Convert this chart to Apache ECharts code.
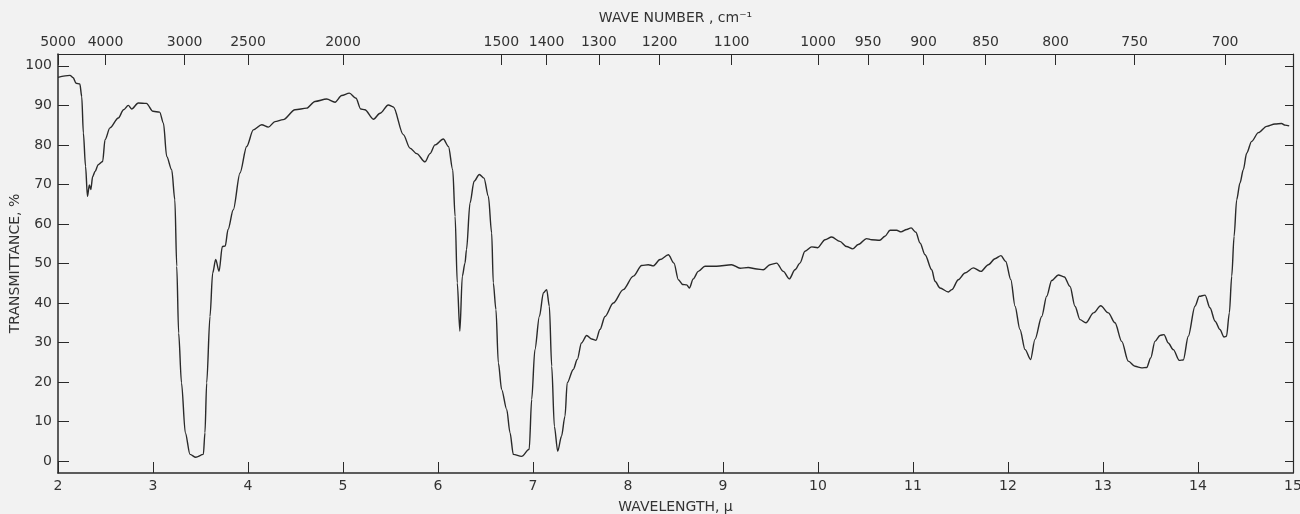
<!DOCTYPE html>
<html>
<head>
<meta charset="utf-8">
<title>IR spectrum</title>
<script src="https://cdn.jsdelivr.net/npm/echarts@6/dist/echarts.min.js"></script>
<style>
  html, body { margin: 0; padding: 0; background: #f2f2f2; }
  #myChart { width: 1300px; height: 514px; }
</style>
</head>
<body>
<div id="myChart"></div>
<script>
// wavelength in microns (bottom axis)
const wavelength = [
  2.00, 2.126, 2.16, 2.19, 2.23, 2.25, 2.267, 2.29, 2.31, 2.33, 2.345, 2.365, 2.39, 2.424, 2.47, 2.495,
  2.547, 2.635, 2.69, 2.74, 2.775, 2.845, 2.93, 3.0, 3.07, 3.11, 3.144, 3.197, 3.23, 3.25, 3.27, 3.30,
  3.34, 3.39, 3.45, 3.53, 3.547, 3.565, 3.6, 3.628, 3.66, 3.695, 3.73, 3.76, 3.79, 3.845, 3.916, 3.986,
  4.056, 4.144, 4.214, 4.284, 4.37, 4.495, 4.618, 4.705, 4.828, 4.916, 4.986, 5.067, 5.137, 5.186, 5.23,
  5.32, 5.39, 5.477, 5.53, 5.635, 5.705, 5.776, 5.863, 5.916, 5.968, 6.056, 6.11, 6.155, 6.18, 6.203,
  6.23, 6.256, 6.284, 6.30, 6.337, 6.38, 6.435, 6.484, 6.53, 6.565, 6.582, 6.61, 6.635, 6.67, 6.723,
  6.758, 6.793, 6.88, 6.96, 6.986, 7.02, 7.067, 7.11, 7.144, 7.172, 7.197, 7.225, 7.26, 7.30, 7.337,
  7.36, 7.424, 7.466, 7.51, 7.565, 7.618, 7.663, 7.705, 7.758, 7.845, 7.95, 8.056, 8.144, 8.214, 8.266,
  8.337, 8.425, 8.484, 8.53, 8.576, 8.618, 8.646, 8.687, 8.74, 8.81, 8.933, 9.09, 9.18, 9.266, 9.355,
  9.424, 9.495, 9.565, 9.635, 9.698, 9.758, 9.81, 9.863, 9.934, 9.997, 10.074, 10.144, 10.23, 10.3,
  10.365, 10.424, 10.512, 10.565, 10.65, 10.705, 10.758, 10.828, 10.874, 10.934, 10.98, 11.03, 11.074,
  11.127, 11.197, 11.232, 11.284, 11.372, 11.41, 11.477, 11.547, 11.635, 11.716, 11.793, 11.863, 11.926,
  11.976, 12.03, 12.074, 12.126, 12.18, 12.238, 12.284, 12.355, 12.407, 12.46, 12.53, 12.593, 12.653,
  12.705, 12.758, 12.82, 12.9, 12.976, 13.056, 13.126, 13.197, 13.266, 13.337, 13.407, 13.46, 13.502,
  13.547, 13.6, 13.642, 13.687, 13.74, 13.803, 13.845, 13.898, 13.968, 14.014, 14.074, 14.126, 14.18,
  14.23, 14.274, 14.3, 14.33, 14.355, 14.38, 14.407, 14.442, 14.477, 14.512, 14.565, 14.635, 14.723,
  14.81, 14.88, 14.916, 14.96
]
// transmittance in %
const transmittance = [
  97.1, 97.6, 97.0, 95.6, 95.4, 92.2, 83.0, 74.6, 67.0, 69.9, 68.7, 72.0, 73.3, 75.0, 75.8, 81.3,
  84.3, 86.8, 88.9, 90.0, 89.1, 90.6, 90.5, 88.5, 88.3, 85.5, 77.1, 73.7, 66.1, 49.3, 32.4, 19.8,
  7.2, 1.7, 1.0, 1.7, 7.2, 19.8, 36.6, 47.6, 51.0, 48.0, 54.3, 54.4, 58.6, 63.6, 72.9, 79.6,
  83.8, 85.1, 84.5, 85.9, 86.4, 88.9, 89.3, 91.0, 91.6, 90.8, 92.5, 93.1, 91.8, 89.1, 88.9,
  86.5, 88.0, 90.1, 89.6, 82.6, 79.2, 77.8, 75.7, 77.8, 80.0, 81.5, 79.6, 73.7, 61.9, 45.1,
  32.9, 46.8, 50.1, 53.5, 65.3, 70.8, 72.5, 71.6, 67.0, 57.7, 45.1, 38.3, 24.9, 18.1, 13.1,
  7.2, 1.7, 1.2, 3.0, 15.6, 28.2, 36.6, 42.6, 43.4, 39.2, 24.0, 8.8, 2.5, 6.3, 11.4,
  19.8, 23.2, 25.7, 29.9, 31.8, 30.9, 30.6, 33.3, 36.6, 40.0, 43.4, 46.8, 49.5, 49.7, 49.4,
  51.0, 52.2, 50.1, 45.9, 44.7, 44.6, 43.8, 46.1, 48.0, 49.3, 49.3, 49.7, 48.8, 49.0, 48.6,
  48.4, 49.7, 50.1, 48.0, 46.1, 48.4, 50.1, 53.1, 54.2, 54.0, 56.0, 56.7, 55.6, 54.3,
  53.7, 54.8, 56.3, 56.0, 55.9, 56.9, 58.4, 58.4, 58.0, 58.6, 59.0, 57.9, 55.2,
  52.2, 48.4, 45.5, 43.8, 42.8, 43.4, 45.9, 47.6, 48.9, 48.0, 49.7, 51.2, 52.0,
  50.5, 45.9, 39.2, 33.3, 28.2, 25.7, 30.8, 36.6, 41.7, 45.7, 47.1, 46.6, 44.2,
  39.2, 35.8, 35.0, 37.5, 39.3, 37.5, 35.0, 30.3, 25.3, 24.0, 23.6, 23.7, 26.1,
  30.3, 31.8, 32.0, 29.9, 28.2, 25.5, 25.6, 31.6, 39.2, 41.7, 42.0, 38.8, 35.4,
  33.3, 31.4, 31.6, 37.5, 46.8, 56.9, 66.1, 70.4, 73.7, 77.9, 80.9, 83.1, 84.7,
  85.3, 85.4, 85.0, 84.8
]
// top axis: wave numbers, cm-1
const waveNumbers = [5000, 4000, 3000, 2500, 2000, 1500, 1400, 1300, 1200, 1100, 1000, 950, 900, 850, 800, 750, 700]
// y axis tick labels
const yTicks = [0, 10, 20, 30, 40, 50, 60, 70, 80, 90, 100]

const lineColor = '#2a2a2a'
const textStyle = { fontFamily: 'DejaVu Sans', fontSize: 14, color: '#333' }

let points = wavelength.map((w, i) => [w, transmittance[i]])

let option = {
  backgroundColor: '#f2f2f2',
  animation: false,
  // keep the plot box fixed, labels may sit outside it
  grid: { left: 58, right: 7, top: 54, bottom: 41, outerBoundsMode: 'none', containLabel: false },
  xAxis: [
    {
      type: 'value',
      min: 2,
      max: 15,
      interval: 1,
      position: 'bottom',
      name: 'WAVELENGTH, μ',
      nameLocation: 'middle',
      nameGap: 27,
      nameTextStyle: textStyle,
      axisLine: { onZero: false, lineStyle: { color: lineColor, width: 1.5 } },
      axisTick: { inside: true, length: 11, lineStyle: { color: lineColor } },
      axisLabel: Object.assign({ margin: 6 }, textStyle),
      splitLine: { show: false }
    },
    {
      // wave number scale drawn over wavelength positions
      type: 'value',
      min: 2,
      max: 15,
      position: 'top',
      name: 'WAVE NUMBER , cm⁻¹',
      nameLocation: 'middle',
      nameGap: 29,
      nameTextStyle: textStyle,
      axisLine: { onZero: false, lineStyle: { color: lineColor, width: 1.2 } },
      axisTick: {
        inside: true,
        length: 11,
        customValues: waveNumbers.map(n => 10000 / n),
        lineStyle: { color: lineColor }
      },
      axisLabel: Object.assign({
        margin: 5,
        customValues: waveNumbers.map(n => 10000 / n),
        formatter: v => String(Math.round(10000 / v))
      }, textStyle),
      splitLine: { show: false }
    }
  ],
  yAxis: [
    {
      type: 'value',
      min: -3,
      max: 103,
      position: 'left',
      name: 'TRANSMITTANCE, %',
      nameLocation: 'middle',
      nameRotate: 90,
      nameGap: 36,
      nameMoveOverlap: false,
      nameTextStyle: textStyle,
      axisLine: { show: true, onZero: false, lineStyle: { color: lineColor, width: 1.5 } },
      axisTick: { inside: true, length: 11, customValues: yTicks, lineStyle: { color: lineColor } },
      axisLabel: Object.assign({ margin: 6, customValues: yTicks }, textStyle),
      splitLine: { show: false }
    },
    {
      type: 'value',
      min: -3,
      max: 103,
      position: 'right',
      axisLine: { show: true, onZero: false, lineStyle: { color: lineColor, width: 1.2 } },
      axisTick: { inside: true, length: 8, customValues: yTicks, lineStyle: { color: lineColor } },
      axisLabel: { show: false },
      splitLine: { show: false }
    }
  ],
  series: [
    {
      type: 'line',
      data: points,
      showSymbol: false,
      smooth: 0.3,
      smoothMonotone: 'x',
      lineStyle: { color: lineColor, width: 1.4 }
    }
  ]
}

let myChart = echarts.init(document.getElementById('myChart'))
myChart.setOption(option)
</script>
</body>
</html>
